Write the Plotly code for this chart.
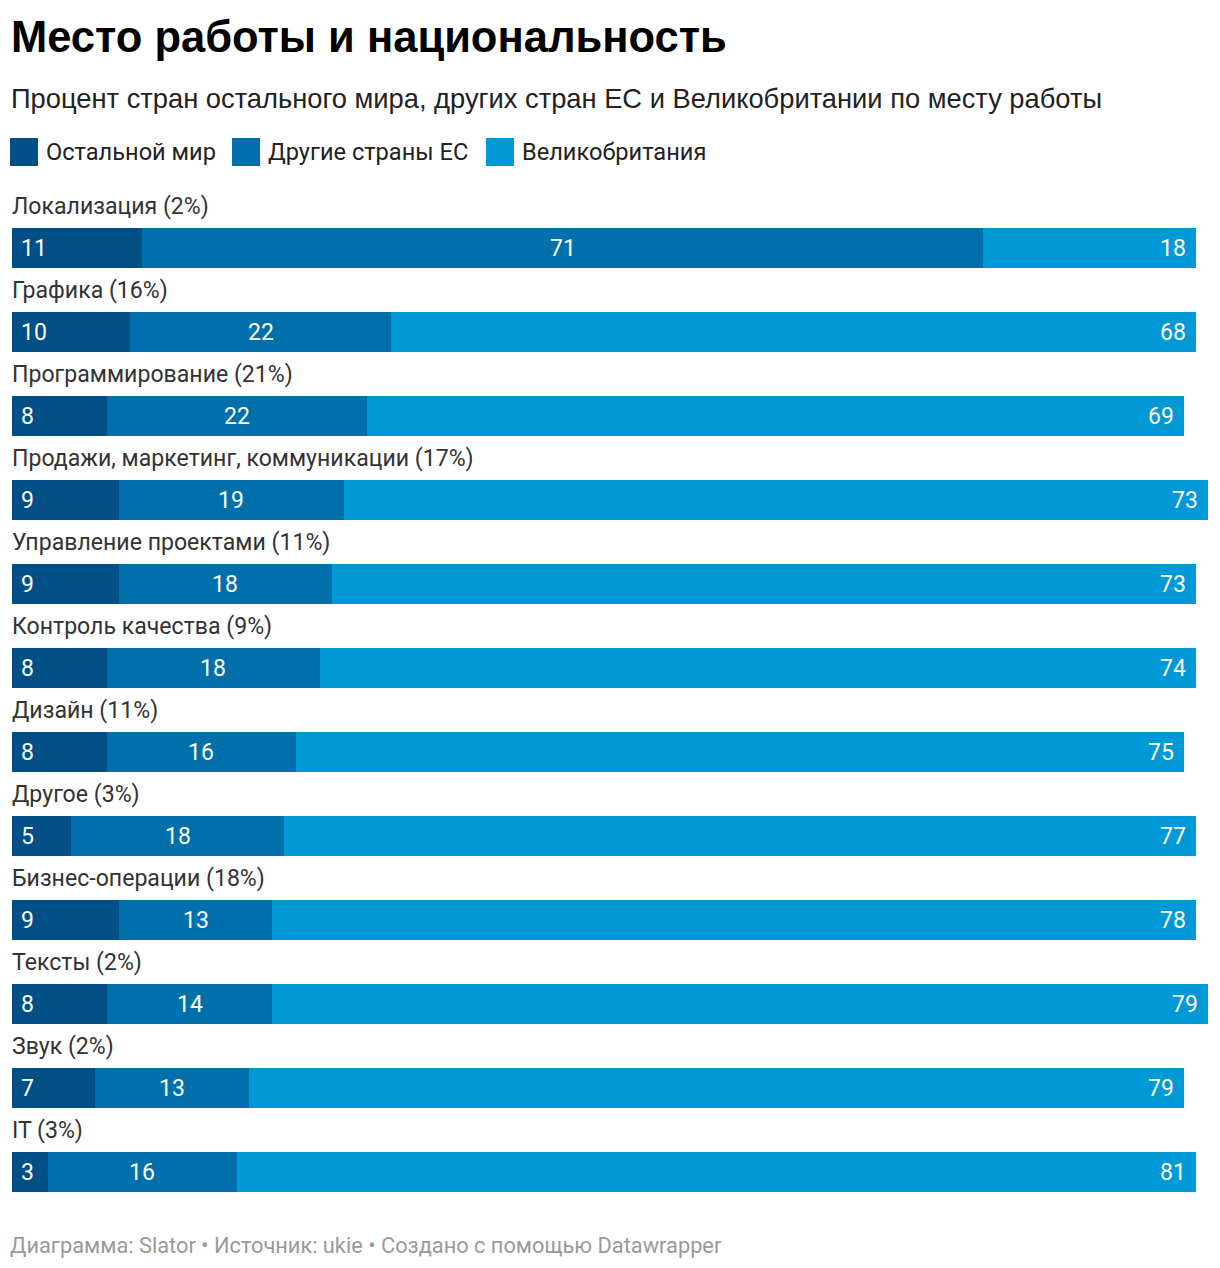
import plotly.graph_objects as go

categories = ["Локализация (2%)", "Графика (16%)", "Программирование (21%)",
              "Продажи, маркетинг, коммуникации (17%)", "Управление проектами (11%)",
              "Контроль качества (9%)", "Дизайн (11%)", "Другое (3%)",
              "Бизнес-операции (18%)", "Тексты (2%)", "Звук (2%)", "IT (3%)"]
rest_of_world = [11, 10, 8, 9, 9, 8, 8, 5, 9, 8, 7, 3]
other_eu = [71, 22, 22, 19, 18, 18, 16, 18, 13, 14, 13, 16]
uk = [18, 68, 69, 73, 73, 74, 75, 77, 78, 79, 79, 81]
series_names = ["Остальной мир", "Другие страны ЕС", "Великобритания"]
colors = ["#004f86", "#0070ad", "#0099d8"]

title = "Место работы и национальность"
subtitle = "Процент стран остального мира, других стран ЕС и Великобритании по месту работы"
footer = "Диаграмма: Slator • Источник: ukie • Создано с помощью Datawrapper"

FONT = "Roboto, 'Noto Sans', sans-serif"
HEAD_FONT = "'Liberation Sans', Arial, sans-serif"
OFF = 8  # page body margin
W, H = 1212, 1260
# plot area in screen pixels
PX0, PX1, PY0, PY1 = 12, 1212, 200, 1220
ML, MR = PX0 - OFF, W - (PX1 - OFF)
MT, MB = PY0 - OFF, H - (PY1 - OFF)
px_per_unit = 11.84
xmax = (PX1 - PX0) / px_per_unit
row_px = 84
first_center = 248
last_center = first_center + row_px * (len(categories) - 1)
ytop = -(first_center - PY0) / row_px
ybot = (len(categories) - 1) + (PY1 - last_center) / row_px

series = [rest_of_world, other_eu, uk]
yidx = list(range(len(categories)))

fig = go.Figure()
for name, vals, col in zip(series_names, series, colors):
    fig.add_trace(go.Bar(
        x=vals, y=yidx, orientation="h", name=name,
        marker=dict(color=col, line=dict(width=0)),
        width=40 / row_px, showlegend=False, hoverinfo="x+name",
    ))

VAL_SIZE = 23
ann = []
for i, cat in enumerate(categories):
    ann.append(dict(x=0, y=i, xref="x", yref="y", text=cat, showarrow=False,
                    xanchor="left", yanchor="middle", yshift=42, xshift=-2,
                    font=dict(family=FONT, size=23.1, color="#333333")))
    a, b, c = rest_of_world[i], other_eu[i], uk[i]
    ann.append(dict(x=0, y=i, xref="x", yref="y", text=str(a), showarrow=False,
                    xanchor="left", yanchor="middle", xshift=7,
                    font=dict(family=FONT, size=VAL_SIZE, color="white")))
    ann.append(dict(x=a + b / 2, y=i, xref="x", yref="y", text=str(b), showarrow=False,
                    xanchor="center", yanchor="middle",
                    font=dict(family=FONT, size=VAL_SIZE, color="white")))
    ann.append(dict(x=a + b + c, y=i, xref="x", yref="y", text=str(c), showarrow=False,
                    xanchor="right", yanchor="middle", xshift=-8,
                    font=dict(family=FONT, size=VAL_SIZE, color="white")))


def px_x(sx):
    return (sx - PX0) / (PX1 - PX0)


def px_y(sy):
    return (PY1 - sy) / (PY1 - PY0)


def text_ann(sx, sy, text, font):
    return dict(x=px_x(sx), y=px_y(sy), xref="paper", yref="paper", text=text,
                showarrow=False, xanchor="left", yanchor="middle", font=font)


ann.append(text_ann(9, 37, "<b>" + title + "</b>",
                    dict(family=HEAD_FONT, size=43.5, color="#000000")))
ann.append(text_ann(9, 99, subtitle,
                    dict(family=HEAD_FONT, size=27.3, color="#222222")))
ann.append(text_ann(8, 1245, footer,
                    dict(family=FONT, size=21.8, color="#9a9a9a")))

shapes = []
legend_x = [10, 232, 486]
for lx, name, col in zip(legend_x, series_names, colors):
    shapes.append(dict(type="rect", xref="paper", yref="paper",
                       x0=px_x(lx), x1=px_x(lx + 28), y0=px_y(166), y1=px_y(138),
                       fillcolor=col, line=dict(width=0)))
    ann.append(text_ann(lx + 34, 152, name, dict(family=FONT, size=23.6, color="#222222")))

fig.update_layout(
    barmode="stack",
    width=W, height=H,
    margin=dict(l=ML, r=MR, t=MT, b=MB, pad=0),
    paper_bgcolor="white", plot_bgcolor="white",
    xaxis=dict(range=[0, xmax], visible=False, fixedrange=True),
    yaxis=dict(range=[ybot, ytop], visible=False, fixedrange=True),
    annotations=ann, shapes=shapes,
    font=dict(family=FONT),
)

fig.write_html("out.html")
